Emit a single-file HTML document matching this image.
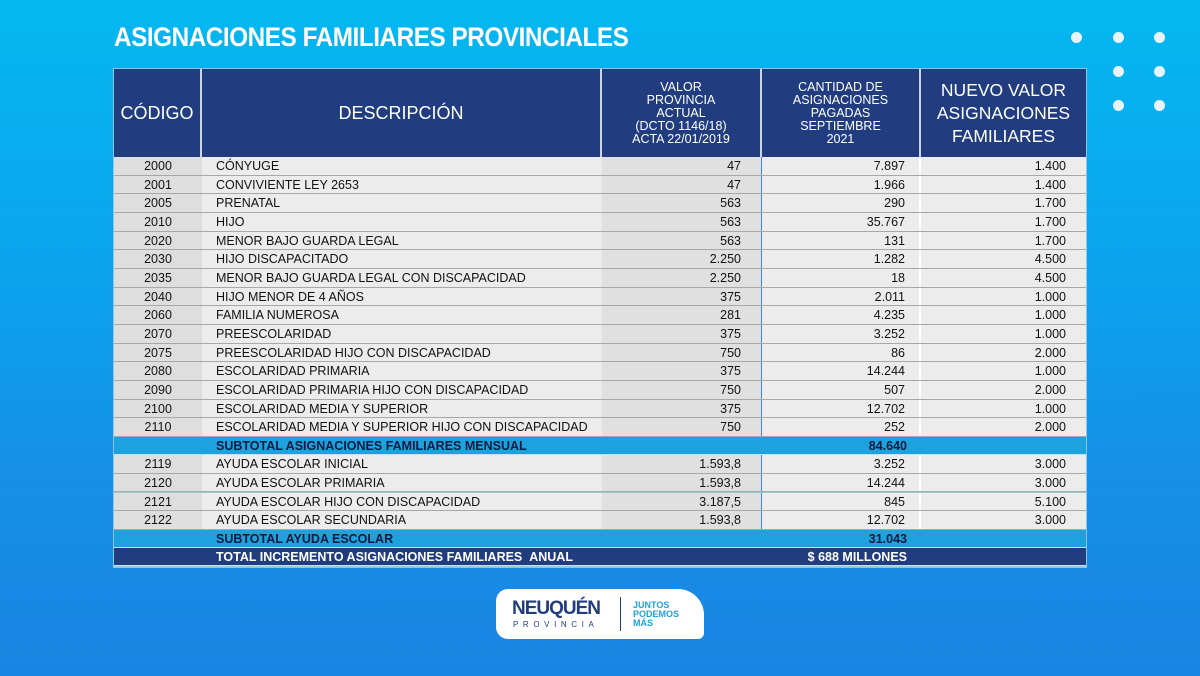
<!DOCTYPE html>
<html><head><meta charset="utf-8"><style>
*{margin:0;padding:0;box-sizing:border-box}
body{width:1200px;height:676px;overflow:hidden;position:relative;font-family:"Liberation Sans",sans-serif;
background:linear-gradient(180deg,#05b8f0 0%,#0aa6ee 35%,#1590e6 70%,#1a84e2 100%);}
.title{position:absolute;left:114px;top:22px;color:#fff;font-weight:bold;font-size:27px;letter-spacing:-0.5px;transform:scaleX(0.9);transform-origin:left}
.dot{position:absolute;width:11px;height:11px;border-radius:50%;background:#e8f4fc}
.tbl{position:absolute;left:113px;top:68px;width:974px;height:500px;background:#9cc;border:1px solid #8fc4e8}
.h{position:absolute;top:69px;height:88px;background:#213d80;color:#fff;display:flex;align-items:center;justify-content:center;text-align:center;border-right:2px solid #c8d4e8}
.row{position:absolute;left:114px;width:972px;height:18.67px;font-size:12.5px;color:#111;border-bottom:1px solid #a8a8a8}
.row div{position:absolute;top:0;height:100%;line-height:18px;white-space:nowrap}
.c1{left:0;width:88px;background:#dedede;text-align:center}
.c2{left:88px;width:400px;background:#ececec;padding-left:14px}
.c3{left:488px;width:160px;background:#e0e0e0;text-align:right;padding-right:20px;border-right:1px solid #3a8ad0}
.c4{left:648px;width:159px;background:#ececec;text-align:right;padding-right:14px;border-right:2px solid #fff}
.c5{left:807px;width:165px;background:#ececec;text-align:right;padding-right:20px}
.sub{position:absolute;left:114px;width:972px;height:18px;background:#1ea2dd;font-weight:bold;font-size:12.5px;color:#0a1a40;line-height:18px;border-bottom:1px solid #c0e4f6}
.sub span{position:absolute}
</style></head><body>
<div class="title">ASIGNACIONES FAMILIARES PROVINCIALES</div>
<div class="dot" style="left:1071px;top:32px"></div><div class="dot" style="left:1113px;top:32px"></div><div class="dot" style="left:1154px;top:32px"></div>
<div class="dot" style="left:1113px;top:66px"></div><div class="dot" style="left:1154px;top:66px"></div>
<div class="dot" style="left:1113px;top:100px"></div><div class="dot" style="left:1154px;top:100px"></div>
<div class="tbl"></div>
<div class="h" style="left:114px;width:88px;font-size:18px">CÓDIGO</div>
<div class="h" style="left:202px;width:400px;font-size:18px">DESCRIPCIÓN</div>
<div class="h" style="left:602px;width:160px;font-size:12.5px;line-height:13px">VALOR<br>PROVINCIA<br>ACTUAL<br>(DCTO 1146/18)<br>ACTA 22/01/2019</div>
<div class="h" style="left:762px;width:159px;font-size:12.5px;line-height:13px">CANTIDAD DE<br>ASIGNACIONES<br>PAGADAS<br>SEPTIEMBRE<br>2021</div>
<div class="h" style="left:921px;width:165px;font-size:17.5px;line-height:23px;border-right:none">NUEVO VALOR<br>ASIGNACIONES<br>FAMILIARES</div>
<div id="rows"></div>
<script>
var a=[["2000","CÓNYUGE","47","7.897","1.400"],["2001","CONVIVIENTE LEY 2653","47","1.966","1.400"],["2005","PRENATAL","563","290","1.700"],["2010","HIJO","563","35.767","1.700"],["2020","MENOR BAJO GUARDA LEGAL","563","131","1.700"],["2030","HIJO DISCAPACITADO","2.250","1.282","4.500"],["2035","MENOR BAJO GUARDA LEGAL CON DISCAPACIDAD","2.250","18","4.500"],["2040","HIJO MENOR DE 4 AÑOS","375","2.011","1.000"],["2060","FAMILIA NUMEROSA","281","4.235","1.000"],["2070","PREESCOLARIDAD","375","3.252","1.000"],["2075","PREESCOLARIDAD HIJO CON DISCAPACIDAD","750","86","2.000"],["2080","ESCOLARIDAD PRIMARIA","375","14.244","1.000"],["2090","ESCOLARIDAD PRIMARIA HIJO CON DISCAPACIDAD","750","507","2.000"],["2100","ESCOLARIDAD MEDIA Y SUPERIOR","375","12.702","1.000"],["2110","ESCOLARIDAD MEDIA Y SUPERIOR HIJO CON DISCAPACIDAD","750","252","2.000"]];
var b=[["2119","AYUDA ESCOLAR INICIAL","1.593,8","3.252","3.000"],["2120","AYUDA ESCOLAR PRIMARIA","1.593,8","14.244","3.000"],["2121","AYUDA ESCOLAR HIJO CON DISCAPACIDAD","3.187,5","845","5.100"],["2122","AYUDA ESCOLAR SECUNDARIA","1.593,8","12.702","3.000"]];
var h="";function r(d,t){return '<div class="row" style="top:'+t+'px"><div class="c1">'+d[0]+'</div><div class="c2">'+d[1]+'</div><div class="c3">'+d[2]+'</div><div class="c4">'+d[3]+'</div><div class="c5">'+d[4]+'</div></div>';}
a.forEach(function(d,i){h+=r(d,157+i*18.67)});
b.forEach(function(d,i){h+=r(d,455+i*18.75)});
document.getElementById("rows").innerHTML=h;
</script>
<div class="sub" style="top:437px"><span style="left:102px">SUBTOTAL ASIGNACIONES FAMILIARES MENSUAL</span><span style="right:179px">84.640</span></div>
<div class="sub" style="top:530px"><span style="left:102px">SUBTOTAL AYUDA ESCOLAR</span><span style="right:179px">31.043</span></div>
<div class="sub" style="top:548px;background:#213d80;color:#fff;border-bottom:1px solid #c0e4f6"><span style="left:102px">TOTAL INCREMENTO ASIGNACIONES FAMILIARES &nbsp;ANUAL</span><span style="right:179px">$ 688 MILLONES</span></div>
<div style="position:absolute;left:496px;top:589px;width:208px;height:50px;background:#fff;border-radius:12px 26px 6px 12px"></div>
<div style="position:absolute;left:512px;top:598px;font-weight:900;font-size:19px;color:#213d80;letter-spacing:-1px">NEUQUÉN</div>
<div style="position:absolute;left:513px;top:620px;font-size:8px;color:#213d80;letter-spacing:4.6px">PROVINCIA</div>
<div style="position:absolute;left:620px;top:597px;width:1px;height:34px;background:#213d80"></div>
<div style="position:absolute;left:633px;top:601px;font-weight:bold;font-size:9px;line-height:9px;color:#1ea2dd">JUNTOS<br>PODEMOS<br>MÁS</div>
</body></html>
